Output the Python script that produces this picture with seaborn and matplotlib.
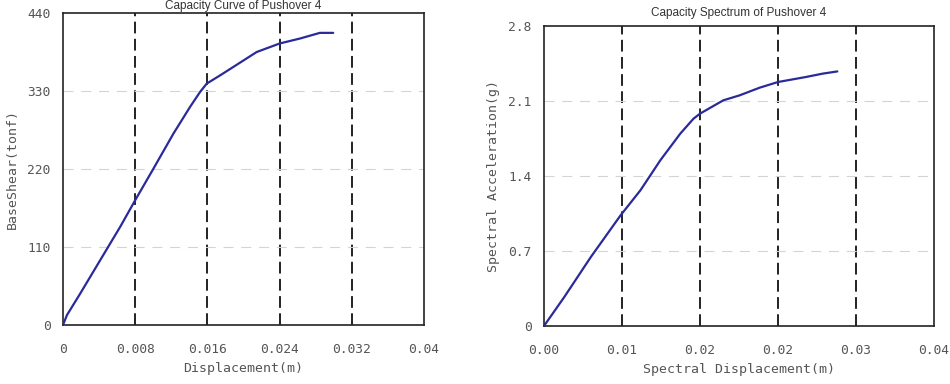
import matplotlib
matplotlib.use("Agg")
import matplotlib.pyplot as plt
import seaborn as sns
import pandas as pd

# capacity curve (left)
cap_disp = [0.0, 0.00044, 0.00192, 0.00413, 0.00634, 0.0080, 0.01003, 0.01224,
            0.01408, 0.01519, 0.01593, 0.0174, 0.01888, 0.02146, 0.0240,
            0.02625, 0.02846, 0.02994]
cap_shear = [0, 14, 44.6, 91.6, 138.5, 176, 220.7, 270, 307.6, 328.7, 340.5,
             352, 364, 385, 397, 404, 412, 412]

# capacity spectrum (right)
spec_disp = [0.0, 0.0021, 0.00482, 0.00787, 0.0099, 0.01194, 0.01398, 0.01534,
             0.01601, 0.01839, 0.02008, 0.02212, 0.0240, 0.02687, 0.02857, 0.03009]
spec_acc = [0.0, 0.273, 0.646, 1.035, 1.268, 1.548, 1.796, 1.936, 1.983,
            2.107, 2.154, 2.225, 2.278, 2.325, 2.356, 2.377]

x_ticks = [0, 0.008, 0.016, 0.024, 0.032, 0.04]
left_xlabels = ["0", "0.008", "0.016", "0.024", "0.032", "0.04"]
right_xlabels = ["0.00", "0.01", "0.02", "0.02", "0.03", "0.04"]
left_yticks = [0, 110, 220, 330, 440]
right_yticks = [0, 0.7, 1.4, 2.1, 2.8]
right_ylabels = ["0", "0.7", "1.4", "2.1", "2.8"]

sns.set_style("white")
plt.rcParams['font.family'] = ['DejaVu Sans Mono']

line_color = "#2a2a9a"
text_color = "#555555"

fig = plt.figure(figsize=(9.5, 3.84), dpi=100)
ax1 = fig.add_axes([0.0663, 0.1536, 0.38, 0.8125])
ax2 = fig.add_axes([0.5726, 0.151, 0.4105, 0.781])


def style_axes(ax, xlabels, yticks, ylabels, ymax):
    ax.set_xlim(0, 0.04)
    ax.set_ylim(0, ymax)
    ax.set_xticks(x_ticks)
    ax.set_xticklabels(xlabels)
    ax.set_yticks(yticks)
    ax.set_yticklabels(ylabels)
    ax.tick_params(axis='x', length=0, pad=13, labelsize=9.3, labelcolor=text_color)
    ax.tick_params(axis='y', length=0, pad=9, labelsize=9.3, labelcolor=text_color)
    # vertical dashed lines in black, horizontal light grey
    for xv in x_ticks[1:-1]:
        ax.axvline(xv, color="#111111", lw=1.3, ls=(0, (6.5, 3)), zorder=1)
    for yv in yticks[1:-1]:
        ax.axhline(yv, color="#d4d4d4", lw=0.8, ls=(0, (9, 7)), zorder=1)
    for sp in ax.spines.values():
        sp.set_color("#222222")
        sp.set_linewidth(1.2)


df1 = pd.DataFrame({"disp": cap_disp, "shear": cap_shear})
sns.lineplot(data=df1, x="disp", y="shear", ax=ax1, color=line_color, lw=1.6,
             sort=False, zorder=3)
style_axes(ax1, left_xlabels, left_yticks, [str(v) for v in left_yticks], 440)
ax1.set_xlabel("Displacement(m)", fontsize=9.5, color=text_color, labelpad=4)
ax1.set_ylabel("BaseShear(tonf)", fontsize=9.5, color=text_color, labelpad=6)
ax1.set_title("Capacity Curve of Pushover 4", fontsize=8.5, color="#333333",
              family=['Liberation Sans'], pad=3)

df2 = pd.DataFrame({"sd": spec_disp, "sa": spec_acc})
sns.lineplot(data=df2, x="sd", y="sa", ax=ax2, color=line_color, lw=1.6,
             sort=False, zorder=3)
style_axes(ax2, right_xlabels, right_yticks, right_ylabels, 2.8)
ax2.set_xlabel("Spectral Displacement(m)", fontsize=9.5, color=text_color, labelpad=4)
ax2.set_ylabel("Spectral Acceleration(g)", fontsize=9.5, color=text_color, labelpad=6)
ax2.set_title("Capacity Spectrum of Pushover 4", fontsize=8.5, color="#333333",
              family=['Liberation Sans'], pad=7)

fig.savefig("out.png", dpi=100)
